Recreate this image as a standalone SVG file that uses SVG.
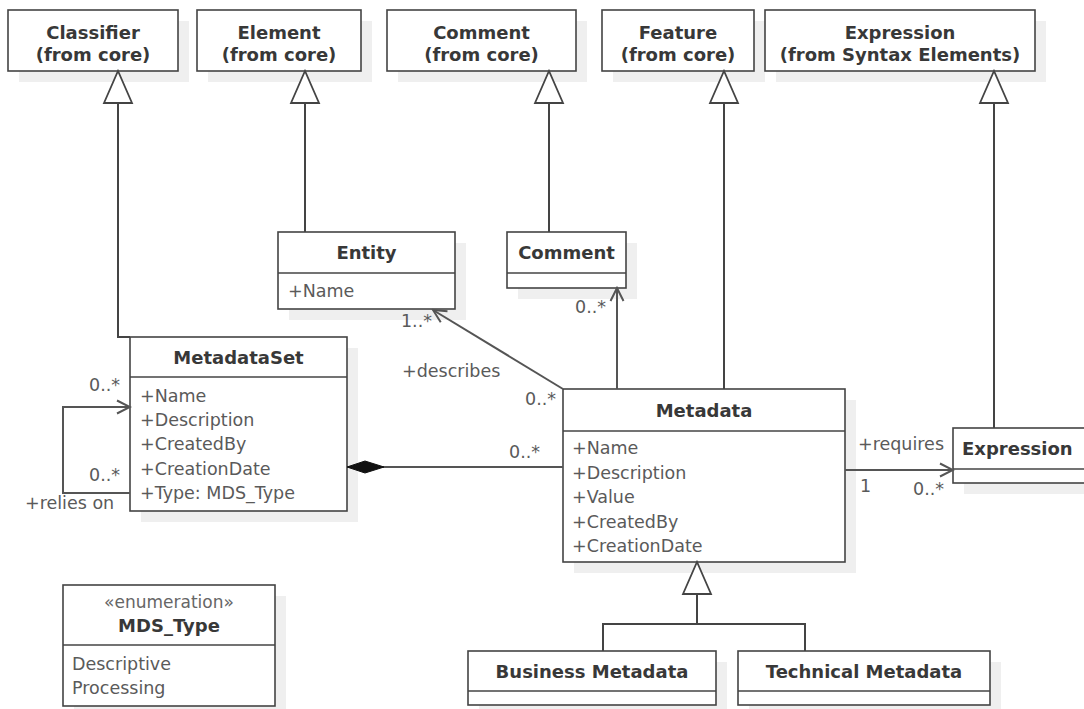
<svg xmlns="http://www.w3.org/2000/svg" width="1084" height="709" viewBox="0 0 1084 709">
  <style>
    .shadow { fill: #efefef; }
    .box { fill: #ffffff; stroke: #444444; stroke-width: 1.6; }
    .sep { stroke: #444444; stroke-width: 1.6; }
    .title { font-family: "DejaVu Sans", "Liberation Sans", sans-serif; font-weight: bold; font-size: 18px; fill: #383838; text-anchor: middle; }
    .attr { font-family: "DejaVu Sans", "Liberation Sans", sans-serif; font-size: 17.5px; fill: #5a5a5a; }
    .stereo { font-family: "DejaVu Sans", "Liberation Sans", sans-serif; font-size: 17px; fill: #666666; text-anchor: middle; }
    .label { font-family: "DejaVu Sans", "Liberation Sans", sans-serif; font-size: 17.5px; fill: #5a5a5a; }
    .end { text-anchor: end; }
    .edge { fill: none; stroke: #555555; stroke-width: 2; }
    .gen { fill: none; stroke: #444444; stroke-width: 2; }
  </style>
  <defs>
    <!-- hollow generalization triangle -->
    <marker id="inherit" viewBox="0 0 36 32" refX="33" refY="16" markerWidth="36" markerHeight="32" orient="auto" markerUnits="userSpaceOnUse">
      <path d="M1,2 L33,16 L1,30 Z" fill="#ffffff" stroke="#444444" stroke-width="1.8"/>
    </marker>
    <!-- open navigable-association arrow -->
    <marker id="open" viewBox="0 0 16 16" refX="14" refY="8" markerWidth="16" markerHeight="16" orient="auto" markerUnits="userSpaceOnUse">
      <path d="M1,1.5 L14,8 L1,14.5" fill="none" stroke="#555555" stroke-width="2"/>
    </marker>
    <!-- filled composition diamond -->
    <marker id="diamond" viewBox="0 0 40 14" refX="1" refY="7" markerWidth="40" markerHeight="14" orient="auto" markerUnits="userSpaceOnUse">
      <path d="M1,7 L19,1 L38,7 L19,13 Z" fill="#111111" stroke="#111111" stroke-width="1"/>
    </marker>
  </defs>

  <!-- core classes -->
  <g id="classifier">
    <rect class="shadow" x="19" y="21" width="170" height="61"/>
    <rect class="box" x="8" y="10" width="170" height="61"/>
    <text class="title" x="93" y="38.5">Classifier</text>
    <text class="title" x="93" y="61">(from core)</text>
  </g>
  <g id="element">
    <rect class="shadow" x="208" y="21" width="164" height="61"/>
    <rect class="box" x="197" y="10" width="164" height="61"/>
    <text class="title" x="279" y="38.5">Element</text>
    <text class="title" x="279" y="61">(from core)</text>
  </g>
  <g id="comment-core">
    <rect class="shadow" x="398" y="21" width="189" height="61"/>
    <rect class="box" x="387" y="10" width="189" height="61"/>
    <text class="title" x="481.5" y="38.5">Comment</text>
    <text class="title" x="481.5" y="61">(from core)</text>
  </g>
  <g id="feature">
    <rect class="shadow" x="613" y="21" width="152" height="61"/>
    <rect class="box" x="602" y="10" width="152" height="61"/>
    <text class="title" x="678" y="38.5">Feature</text>
    <text class="title" x="678" y="61">(from core)</text>
  </g>
  <g id="expression-syntax">
    <rect class="shadow" x="776" y="21" width="270" height="61"/>
    <rect class="box" x="765" y="10" width="270" height="61"/>
    <text class="title" x="900" y="38.5">Expression</text>
    <text class="title" x="900" y="61">(from Syntax Elements)</text>
  </g>

  <!-- model classes -->
  <g id="entity">
    <rect class="shadow" x="289" y="243" width="177" height="77"/>
    <rect class="box" x="278" y="232" width="177" height="77"/>
    <line class="sep" x1="278" y1="273" x2="455" y2="273"/>
    <text class="title" x="366.5" y="258.5">Entity</text>
    <text class="attr" x="288" y="297">+Name</text>
  </g>
  <g id="comment">
    <rect class="shadow" x="518" y="243" width="119" height="56"/>
    <rect class="box" x="507" y="232" width="119" height="56"/>
    <line class="sep" x1="507" y1="273" x2="626" y2="273"/>
    <text class="title" x="566.5" y="258.5">Comment</text>
  </g>
  <g id="metadataset">
    <rect class="shadow" x="141" y="348" width="217" height="174"/>
    <rect class="box" x="130" y="337" width="217" height="174"/>
    <line class="sep" x1="130" y1="377" x2="347" y2="377"/>
    <text class="title" x="238.5" y="364">MetadataSet</text>
    <text class="attr" x="140" y="402">+Name</text>
    <text class="attr" x="140" y="426">+Description</text>
    <text class="attr" x="140" y="450">+CreatedBy</text>
    <text class="attr" x="140" y="474.5">+CreationDate</text>
    <text class="attr" x="140" y="498.5">+Type: MDS_Type</text>
  </g>
  <g id="metadata">
    <rect class="shadow" x="574" y="400" width="282" height="173"/>
    <rect class="box" x="563" y="389" width="282" height="173"/>
    <line class="sep" x1="563" y1="431" x2="845" y2="431"/>
    <text class="title" x="704" y="417">Metadata</text>
    <text class="attr" x="572" y="454">+Name</text>
    <text class="attr" x="572" y="478.5">+Description</text>
    <text class="attr" x="572" y="503">+Value</text>
    <text class="attr" x="572" y="527.5">+CreatedBy</text>
    <text class="attr" x="572" y="552">+CreationDate</text>
  </g>
  <g id="expression">
    <rect class="shadow" x="964" y="439" width="140" height="55"/>
    <rect class="box" x="953" y="428" width="140" height="55"/>
    <line class="sep" x1="953" y1="469" x2="1093" y2="469"/>
    <text class="title" x="962" y="455" style="text-anchor:start">Expression</text>
  </g>
  <g id="business-metadata">
    <rect class="shadow" x="479" y="662" width="248" height="54"/>
    <rect class="box" x="468" y="651" width="248" height="54"/>
    <line class="sep" x1="468" y1="691" x2="716" y2="691"/>
    <text class="title" x="592" y="678">Business Metadata</text>
  </g>
  <g id="technical-metadata">
    <rect class="shadow" x="749" y="662" width="252" height="54"/>
    <rect class="box" x="738" y="651" width="252" height="54"/>
    <line class="sep" x1="738" y1="691" x2="990" y2="691"/>
    <text class="title" x="864" y="678">Technical Metadata</text>
  </g>
  <g id="mds-type">
    <rect class="shadow" x="74" y="596" width="212" height="121"/>
    <rect class="box" x="63" y="585" width="212" height="121"/>
    <line class="sep" x1="63" y1="645" x2="275" y2="645"/>
    <text class="stereo" x="169" y="608">«enumeration»</text>
    <text class="title" x="169" y="632">MDS_Type</text>
    <text class="attr" x="72" y="670">Descriptive</text>
    <text class="attr" x="72" y="694">Processing</text>
  </g>

  <!-- connectors -->
  <g id="connectors">
    <!-- generalizations -->
    <path class="gen" d="M130,337 H118 V71" marker-end="url(#inherit)"/>
    <path class="gen" d="M305,232 V71" marker-end="url(#inherit)"/>
    <path class="gen" d="M549,232 V71" marker-end="url(#inherit)"/>
    <path class="gen" d="M724,389 V71" marker-end="url(#inherit)"/>
    <path class="gen" d="M994,428 V71" marker-end="url(#inherit)"/>
    <path class="gen" d="M603,651 V624 H805 V651"/>
    <path class="gen" d="M697,624 V562" marker-end="url(#inherit)"/>

    <!-- associations -->
    <path class="edge" d="M563,389 L433,310" marker-end="url(#open)"/>
    <path class="edge" d="M617,389 V288" marker-end="url(#open)"/>
    <path class="edge" d="M845,470 H953" marker-end="url(#open)"/>
    <path class="edge" d="M130,493 H63 V407 H130" marker-end="url(#open)"/>
    <path class="edge" d="M347,467 H563" marker-start="url(#diamond)"/>

    <!-- association labels -->
    <text class="label end" x="432" y="327">1..*</text>
    <text class="label" x="402" y="377">+describes</text>
    <text class="label" x="525" y="405">0..*</text>
    <text class="label" x="575" y="313">0..*</text>
    <text class="label" x="509" y="458">0..*</text>
    <text class="label" x="89" y="391">0..*</text>
    <text class="label" x="89" y="481">0..*</text>
    <text class="label" x="25" y="509">+relies on</text>
    <text class="label" x="858" y="450">+requires</text>
    <text class="label" x="860" y="492">1</text>
    <text class="label" x="913" y="495">0..*</text>
  </g>
</svg>
